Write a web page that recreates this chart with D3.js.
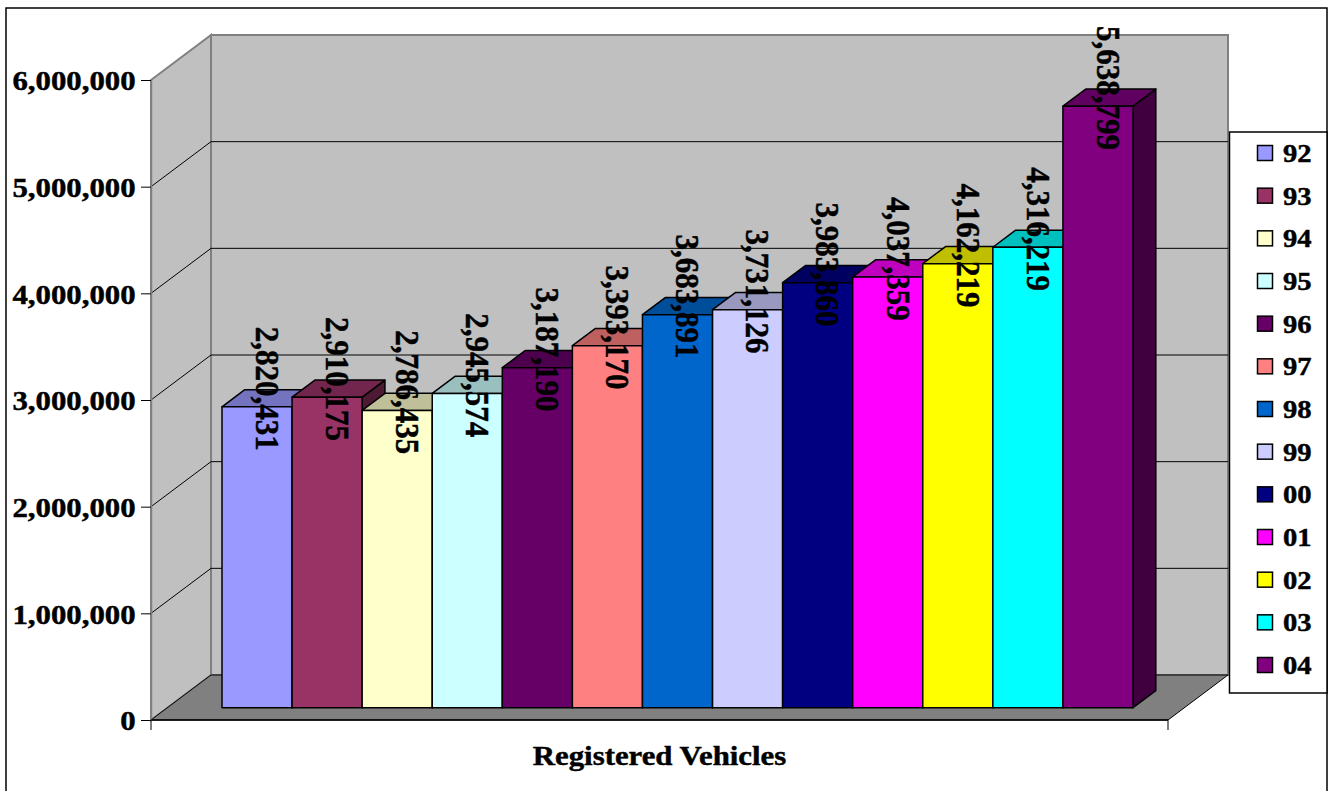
<!DOCTYPE html>
<html>
<head>
<meta charset="utf-8">
<script src="https://cdn.jsdelivr.net/npm/d3@7"></script>
<style>
  html, body { margin: 0; padding: 0; background: #ffffff; }
  svg { display: block; }
</style>
</head>
<body>
<svg id="chart" width="1330" height="791"></svg>
<script>
// ---- data ----
const categoryLabel = "Registered Vehicles";
const years = ["92", "93", "94", "95", "96", "97", "98", "99", "00", "01", "02", "03", "04"];
const values = [2820431, 2910175, 2786435, 2945574, 3187190, 3393170, 3683891, 3731126, 3983860, 4037359, 4162219, 4316219, 5638799];
const colors = ["#9999FF", "#993366", "#FFFFCC", "#CCFFFF", "#660066", "#FF8080", "#0066CC",
                "#CCCCFF", "#000080", "#FF00FF", "#FFFF00", "#00FFFF", "#800080"];
const yTicks = [0, 1000000, 2000000, 3000000, 4000000, 5000000, 6000000];

// ---- layout ----
const FONT = "'Liberation Serif', 'Times New Roman', serif";
const svg = d3.select("#chart");
const front = { left: 151, right: 1168, top: 80, bottom: 720 };
const DX = 60, DY = 45;          // depth offset of back wall
const Z0 = 0.275, Z1 = 0.655;    // bar depth span
const SX = 1.1;                  // horizontal stretch of text

const y = d3.scaleLinear().domain([0, 6000000]).range([front.bottom, front.top]);
const x = d3.scaleBand().domain(years).range([205.5, 1116.5]).padding(0);

const proj = (px, v, z) => [px + z * DX, y(v) - z * DY];
const pts = arr => arr.map(p => p.join(",")).join(" ");
const styleText = sel => sel.attr("font-family", FONT).attr("font-weight", "bold")
  .attr("fill", "#000").attr("stroke", "#000").attr("stroke-width", 0.45);

// outer border
svg.append("rect").attr("x", 6).attr("y", 8).attr("width", 1321).attr("height", 800)
  .attr("fill", "#fff").attr("stroke", "#000").attr("stroke-width", 1.5);

// side wall
svg.append("polygon")
  .attr("points", pts([proj(front.left, 6000000, 0), proj(front.left, 6000000, 1), proj(front.left, 0, 1), proj(front.left, 0, 0)]))
  .attr("fill", "#C0C0C0").attr("stroke", "#808080").attr("stroke-width", 2);

// back wall
svg.append("polygon")
  .attr("points", pts([proj(front.left, 6000000, 1), proj(front.right, 6000000, 1), proj(front.right, 0, 1), proj(front.left, 0, 1)]))
  .attr("fill", "#C0C0C0").attr("stroke", "#808080").attr("stroke-width", 2);

// floor
svg.append("polygon")
  .attr("points", pts([proj(front.left, 0, 0), proj(front.right, 0, 0), proj(front.right, 0, 1), proj(front.left, 0, 1)]))
  .attr("fill", "#808080").attr("stroke", "#000").attr("stroke-width", 1);

// gridlines
yTicks.filter(v => v > 0 && v < 6000000).forEach(v => {
  const a = proj(front.left, v, 0), b = proj(front.left, v, 1), c = proj(front.right, v, 1);
  svg.append("polyline").attr("points", pts([a, b, c]))
    .attr("fill", "none").attr("stroke", "#000").attr("stroke-width", 1);
});

// axis lines & ticks
const axisG = svg.append("g").attr("transform", `translate(${front.left},0)`)
  .call(d3.axisLeft(y).tickValues(yTicks).tickSize(10).tickSizeOuter(0).tickPadding(4).tickFormat(d3.format(",")));
axisG.select(".domain").attr("stroke", "#808080").attr("stroke-width", 1.5);
axisG.selectAll(".tick line").attr("stroke", "#000").attr("stroke-width", 1);
axisG.selectAll(".tick text")
  .call(styleText)
  .attr("font-size", 28)
  .attr("dy", "0.35em")
  .attr("transform", `scale(${SX},1)`);

svg.append("line").attr("x1", front.left).attr("x2", front.right).attr("y1", front.bottom).attr("y2", front.bottom)
  .attr("stroke", "#000").attr("stroke-width", 1.5);
svg.append("line").attr("x1", front.left).attr("x2", front.left).attr("y1", front.bottom).attr("y2", front.bottom + 10)
  .attr("stroke", "#000").attr("stroke-width", 1);
svg.append("line").attr("x1", front.right).attr("x2", front.right).attr("y1", front.bottom).attr("y2", front.bottom + 10)
  .attr("stroke", "#000").attr("stroke-width", 1);

// bars
const shade = (c, k) => { const r = d3.rgb(c); return d3.rgb(r.r * k, r.g * k, r.b * k).formatHex(); };
const barsG = svg.append("g");
years.forEach((yr, i) => {
  const v = values[i];
  const x0 = x(yr), x1 = x(yr) + x.bandwidth();
  const g = barsG.append("g");
  g.append("polygon")
    .attr("points", pts([proj(x1, v, Z0), proj(x1, v, Z1), proj(x1, 0, Z1), proj(x1, 0, Z0)]))
    .attr("fill", shade(colors[i], 0.5)).attr("stroke", "#000").attr("stroke-width", 1.5).attr("stroke-linejoin", "round");
  g.append("polygon")
    .attr("points", pts([proj(x0, v, Z0), proj(x1, v, Z0), proj(x1, v, Z1), proj(x0, v, Z1)]))
    .attr("fill", shade(colors[i], 0.75)).attr("stroke", "#000").attr("stroke-width", 1.5).attr("stroke-linejoin", "round");
  g.append("polygon")
    .attr("points", pts([proj(x0, v, Z0), proj(x1, v, Z0), proj(x1, 0, Z0), proj(x0, 0, Z0)]))
    .attr("fill", colors[i]).attr("stroke", "#000").attr("stroke-width", 1.5).attr("stroke-linejoin", "round");
});

// value labels
const fmt = d3.format(",");
years.forEach((yr, i) => {
  const v = values[i];
  const cx = x(yr) + x.bandwidth() / 2;
  const px = proj(cx, v, (Z0 + Z1) / 2)[0] - 1;
  const py = proj(cx, v, Z1)[1] - 1;
  svg.append("text")
    .attr("transform", `translate(${px},${py}) scale(${SX},1) rotate(90)`)
    .attr("text-anchor", "middle").attr("dy", "0.34em")
    .attr("font-size", 31)
    .call(styleText)
    .text(fmt(v));
});

// category title
svg.append("text")
  .attr("transform", `translate(${(front.left + front.right) / 2},765) scale(${SX},1)`)
  .attr("text-anchor", "middle").attr("font-size", 28)
  .call(styleText)
  .text(categoryLabel);

// legend
const legend = svg.append("g");
legend.append("rect").attr("x", 1229.5).attr("y", 132).attr("width", 97.5).attr("height", 561)
  .attr("fill", "#fff").attr("stroke", "#000").attr("stroke-width", 1.5);
const ly = d3.scalePoint().domain(years).range([153, 665]);
years.forEach((yr, i) => {
  legend.append("rect").attr("x", 1257.5).attr("y", ly(yr) - 7.5).attr("width", 15).attr("height", 15)
    .attr("fill", colors[i]).attr("stroke", "#000").attr("stroke-width", 1.5);
  legend.append("text")
    .attr("transform", `translate(1283,${ly(yr)}) scale(${SX},1)`)
    .attr("dy", "0.34em").attr("font-size", 26)
    .call(styleText)
    .text(yr);
});
</script>
</body>
</html>
